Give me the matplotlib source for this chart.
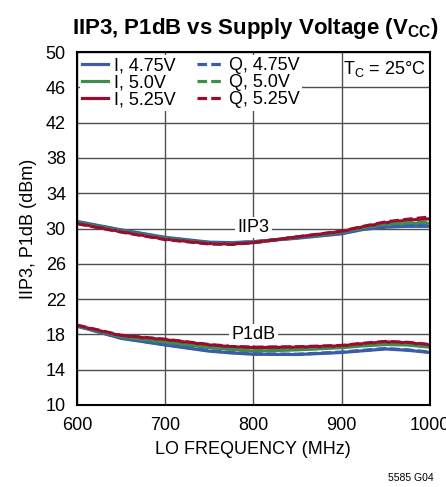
import matplotlib.pyplot as plt
import numpy as np

plt.rcParams['font.family'] = ['Liberation Sans Narrow', 'Liberation Sans', 'DejaVu Sans']

# LO frequency points (MHz)
freq = [600, 650, 700, 750, 775, 800, 850, 900, 925, 950, 975, 1000]

# IIP3 (dBm) per supply voltage, I and Q channels
iip3_i_475 = [30.8, 29.85, 29.0, 28.45, 28.4, 28.5, 28.9, 29.4, 29.9, 30.15, 30.25, 30.25]
iip3_i_50 = [30.7, 29.75, 28.9, 28.35, 28.3, 28.45, 29.0, 29.55, 30.05, 30.4, 30.55, 30.6]
iip3_i_525 = [30.6, 29.65, 28.8, 28.3, 28.25, 28.4, 29.05, 29.65, 30.2, 30.65, 30.95, 31.1]
iip3_q_475 = [30.75, 29.8, 28.95, 28.4, 28.35, 28.5, 28.95, 29.45, 29.95, 30.2, 30.3, 30.3]
iip3_q_50 = [30.65, 29.7, 28.85, 28.3, 28.25, 28.4, 29.0, 29.6, 30.1, 30.5, 30.65, 30.75]
iip3_q_525 = [30.55, 29.6, 28.75, 28.25, 28.2, 28.4, 29.05, 29.7, 30.25, 30.75, 31.05, 31.3]

# P1dB (dBm)
p1_i_475 = [18.95, 17.55, 16.8, 16.1, 15.9, 15.75, 15.72, 15.95, 16.15, 16.35, 16.2, 15.95]
p1_i_50 = [18.95, 17.7, 17.1, 16.5, 16.3, 16.1, 16.25, 16.5, 16.7, 16.85, 16.8, 16.55]
p1_i_525 = [19.0, 17.85, 17.4, 16.8, 16.6, 16.5, 16.55, 16.7, 16.95, 17.15, 17.05, 16.8]
p1_q_475 = [18.95, 17.6, 16.85, 16.15, 15.95, 15.8, 15.75, 16.0, 16.2, 16.4, 16.25, 16.0]
p1_q_50 = [19.0, 17.75, 17.15, 16.55, 16.35, 16.15, 16.3, 16.55, 16.75, 16.9, 16.85, 16.6]
p1_q_525 = [19.05, 17.9, 17.45, 16.85, 16.65, 16.55, 16.6, 16.75, 17.0, 17.2, 17.1, 16.85]

labels = ['I, 4.75V', 'I, 5.0V', 'I, 5.25V', 'Q, 4.75V', 'Q, 5.0V', 'Q, 5.25V']
colors = ['#3a5cab', '#3c8f4a', '#9a0c2f']

fig = plt.figure(figsize=(4.46, 4.87), dpi=100)
ax = fig.add_axes([0.1726, 0.1684, 0.791, 0.7248])

iip3_i = [iip3_i_475, iip3_i_50, iip3_i_525]
iip3_q = [iip3_q_475, iip3_q_50, iip3_q_525]
p1_i = [p1_i_475, p1_i_50, p1_i_525]
p1_q = [p1_q_475, p1_q_50, p1_q_525]

handles = []
for k in range(3):
    h, = ax.plot(freq, iip3_i[k], color=colors[k], lw=2.3, solid_joinstyle='round')
    ax.plot(freq, p1_i[k], color=colors[k], lw=2.3, solid_joinstyle='round')
    handles.append(h)
for k in range(3):
    h, = ax.plot(freq, iip3_q[k], color=colors[k], lw=2.3, ls=(0, (3, 1.3)))
    ax.plot(freq, p1_q[k], color=colors[k], lw=2.3, ls=(0, (3, 1.3)))
    handles.append(h)

ax.set_xlim(600, 1000)
ax.set_ylim(10, 50)
ax.set_xticks(np.arange(600, 1001, 100))
ax.set_yticks(np.arange(10, 51, 4))
ax.grid(True, color='#505050', lw=1.0)
ax.set_axisbelow(True)
ax.tick_params(length=0, labelsize=13)
ax.tick_params(axis='x', pad=9)
ax.tick_params(axis='y', pad=8)
for s in ax.spines.values():
    s.set_linewidth(1.5)
    s.set_color('black')

ax.set_xlabel('LO FREQUENCY (MHz)', fontsize=13, labelpad=5)
ax.set_ylabel('IIP3, P1dB (dBm)', fontsize=13, labelpad=6)

leg = ax.legend(handles, labels, ncol=2, loc='upper left', fontsize=13,
                frameon=True, fancybox=False, edgecolor='none', framealpha=1,
                handlelength=1.4, handletextpad=0.35, columnspacing=1.2,
                labelspacing=0.0, borderaxespad=0.15, borderpad=0.15)

ax.text(800, 30.1, 'IIP3', ha='center', va='center', fontsize=13,
        bbox=dict(facecolor='white', edgecolor='none', pad=1.5))
ax.text(800, 18.0, 'P1dB', ha='center', va='center', fontsize=13,
        bbox=dict(facecolor='white', edgecolor='none', pad=1.5))
ax.text(948, 48.1, r'T$_\mathregular{C}$ = 25°C', ha='center', va='center', fontsize=13)

fig.text(0.573, 0.942, r'IIP3, P1dB vs Supply Voltage (V$_\mathregular{CC}$)',
         ha='center', va='center', fontsize=16, fontweight='bold')
fig.text(0.972, 0.018, '5585 G04', ha='right', va='center', fontsize=7.5)

fig.savefig('out.png', dpi=100)
